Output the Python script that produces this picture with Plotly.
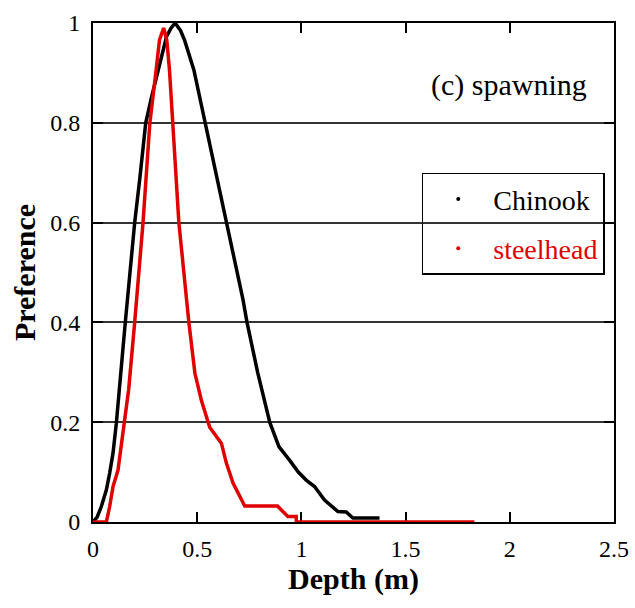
import plotly.graph_objects as go

# Chinook spawning depth preference
chinook_depth = [0, 0.02, 0.04, 0.064, 0.08, 0.096, 0.112, 0.128, 0.14, 0.155, 0.177, 0.2,
                 0.225, 0.253, 0.28, 0.305, 0.33, 0.353, 0.375, 0.394, 0.42, 0.439, 0.484,
                 0.538, 0.59, 0.643, 0.69, 0.72, 0.739, 0.79, 0.848, 0.892, 0.943, 0.985,
                 1.023, 1.063, 1.111, 1.175, 1.215, 1.247, 1.3, 1.375]
chinook_pref = [0, 0.01, 0.031, 0.064, 0.098, 0.138, 0.198, 0.265, 0.33, 0.40, 0.50, 0.60,
                0.69, 0.80, 0.85, 0.892, 0.935, 0.973, 0.99, 1.0, 0.985, 0.966, 0.906,
                0.80, 0.70, 0.60, 0.50, 0.445, 0.40, 0.30, 0.20, 0.151, 0.124, 0.10,
                0.084, 0.071, 0.044, 0.021, 0.02, 0.008, 0.008, 0.008]

# steelhead spawning depth preference
steelhead_depth = [0, 0.064, 0.08, 0.096, 0.12, 0.136, 0.152, 0.171, 0.2, 0.227, 0.24, 0.267,
                   0.273, 0.303, 0.319, 0.339, 0.354, 0.367, 0.38, 0.39, 0.412, 0.434, 0.46,
                   0.489, 0.52, 0.56, 0.592, 0.616, 0.64, 0.672, 0.728, 0.885, 0.935, 0.975,
                   0.976, 1.83]
steelhead_pref = [0, 0, 0.031, 0.071, 0.104, 0.151, 0.198, 0.265, 0.40, 0.525, 0.60, 0.765,
                  0.80, 0.906, 0.966, 0.99, 0.966, 0.906, 0.80, 0.75, 0.60, 0.505, 0.40,
                  0.298, 0.244, 0.19, 0.171, 0.158, 0.118, 0.078, 0.032, 0.032, 0.011, 0.011,
                  0, 0]

x_ticks = [0, 0.5, 1, 1.5, 2, 2.5]
x_tick_labels = ["0", "0.5", "1", "1.5", "2", "2.5"]
y_ticks = [0, 0.2, 0.4, 0.6, 0.8, 1]
y_tick_labels = ["0", "0.2", "0.4", "0.6", "0.8", "1"]

FONT = "Liberation Serif, Times New Roman, serif"
RED = "#e00000"

fig = go.Figure()
fig.add_trace(go.Scatter(x=chinook_depth, y=chinook_pref, mode="lines",
                         line=dict(color="black", width=3.5), showlegend=False))
fig.add_trace(go.Scatter(x=steelhead_depth, y=steelhead_pref, mode="lines",
                         line=dict(color=RED, width=3.5), showlegend=False))
# legend entries (dot symbols as in the original)
fig.add_trace(go.Scatter(x=[None], y=[None], mode="markers", name="Chinook",
                         marker=dict(color="black", size=4), legendgroup="a"))
fig.add_trace(go.Scatter(x=[None], y=[None], mode="markers",
                         name="<span style='color:#e00000'>steelhead</span>",
                         marker=dict(color=RED, size=4), legendgroup="b"))

fig.add_annotation(x=0.952, y=0.875, xref="paper", yref="paper", xanchor="right",
                   yanchor="middle", text="(c) spawning", showarrow=False,
                   font=dict(family=FONT, size=30, color="black"))

fig.update_layout(
    width=635, height=608,
    margin=dict(l=93, r=21, t=23, b=86),
    paper_bgcolor="white", plot_bgcolor="white",
    font=dict(family=FONT, color="black"),
    legend=dict(x=0.631, y=0.70, xanchor="left", yanchor="top",
                bgcolor="rgba(0,0,0,0)", bordercolor="black", borderwidth=1.5,
                font=dict(family=FONT, size=28, color="black"),
                traceorder="grouped", tracegroupgap=10, itemwidth=60),
    xaxis=dict(range=[0, 2.5], tickvals=x_ticks, ticktext=x_tick_labels,
               automargin=False,
               showgrid=False, zeroline=False, showline=True, linecolor="black",
               linewidth=2, mirror="ticks", ticks="inside", ticklen=10,
               tickcolor="black", tickwidth=1.5, layer="below traces",
               ticklabelstandoff=4,
               tickfont=dict(family=FONT, size=24, color="black"),
               title=dict(text="<b>Depth (m)</b>", font=dict(family=FONT, size=30),
                          standoff=6)),
    yaxis=dict(range=[0, 1], tickvals=y_ticks, ticktext=y_tick_labels,
               automargin=False,
               showgrid=True, gridcolor="#333333", gridwidth=1.5, zeroline=False,
               showline=True, linecolor="black", linewidth=2, mirror="ticks",
               ticks="inside", ticklen=10, tickcolor="black", tickwidth=1.5,
               layer="below traces", ticklabelstandoff=6,
               tickfont=dict(family=FONT, size=24, color="black"),
               title=dict(text="<b>Preference</b>", font=dict(family=FONT, size=30),
                          standoff=6)),
)

fig.write_html("out.html", config={"displayModeBar": False},
               post_script="document.body.style.margin='0';")
